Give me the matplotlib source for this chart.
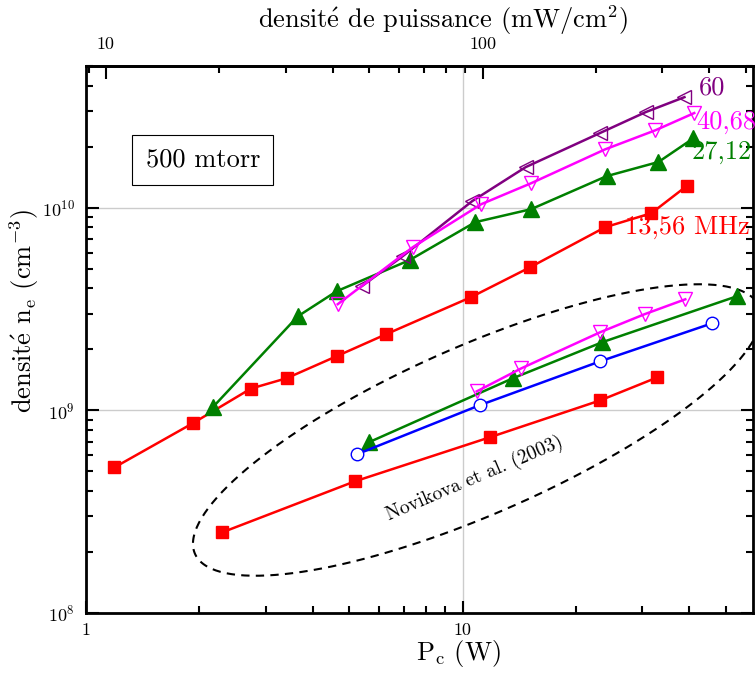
import numpy as np
import matplotlib
matplotlib.use('Agg')
import matplotlib.pyplot as plt
from matplotlib.ticker import FuncFormatter, NullFormatter

plt.rcParams['font.family'] = 'cmr10'
plt.rcParams['mathtext.fontset'] = 'cm'
plt.rcParams['axes.formatter.use_mathtext'] = True

# power density per watt (mW/cm2 per W), from top axis
dens_factor = 8.85

# this work, 500 mtorr
p_1356 = [1.19, 1.92, 2.74, 3.41, 4.63, 6.25, 10.5, 15.1, 23.9, 31.7, 39.3]
n_1356 = [5.23e8, 8.63e8, 1.28e9, 1.44e9, 1.85e9, 2.37e9, 3.61e9, 5.08e9, 8.01e9, 9.39e9, 1.277e10]
p_2712 = [2.17, 3.65, 4.63, 7.23, 10.8, 15.2, 24.1, 33.1, 41.0]
n_2712 = [1.035e9, 2.91e9, 3.87e9, 5.51e9, 8.48e9, 9.83e9, 1.43e10, 1.68e10, 2.2e10]
p_4068 = [4.66, 7.37, 11.2, 15.2, 23.9, 32.5, 41.2]
n_4068 = [3.34e9, 6.38e9, 1.04e10, 1.32e10, 1.94e10, 2.41e10, 2.93e10]
p_60 = [5.40, 6.93, 10.6, 14.7, 23.1, 30.6, 38.8]
n_60 = [4.10e9, 5.76e9, 1.077e10, 1.585e10, 2.33e10, 2.96e10, 3.51e10]

# Novikova et al. (2003)
nov_p_red = [2.30, 5.17, 11.8, 23.2, 32.9]
nov_n_red = [2.50e8, 4.46e8, 7.36e8, 1.12e9, 1.455e9]
nov_p_blue = [5.24, 11.1, 23.2, 46.0]
nov_n_blue = [6.07e8, 1.06e9, 1.746e9, 2.69e9]
nov_p_green = [5.63, 13.6, 23.5, 53.6]
nov_n_green = [6.95e8, 1.44e9, 2.17e9, 3.66e9]
nov_p_mag = [10.9, 14.3, 23.2, 30.4, 39.0]
nov_n_mag = [1.24e9, 1.61e9, 2.43e9, 2.98e9, 3.53e9]

top_ticks = [10, 100]

fig = plt.figure(figsize=(7.55, 6.76), dpi=100)
ax = fig.add_axes([86/755, 63/676, 667/755, 547/676])
ax.set_xscale('log')
ax.set_yscale('log')
ax.set_xlim(1, 59)
ax.set_ylim(1e8, 5e10)

lw = 1.8
ax.plot(p_1356, n_1356, color='red', lw=lw, marker='s', ms=9, zorder=5)
ax.plot(p_2712, n_2712, color='green', lw=lw, marker='^', ms=11, zorder=5)
ax.plot(p_60, n_60, color='purple', lw=lw, marker='<', ms=10, mfc='none', zorder=5)
ax.plot(p_4068, n_4068, color='magenta', lw=lw, marker='v', ms=10, mfc='none', zorder=6)

ax.plot(nov_p_red, nov_n_red, color='red', lw=lw, marker='s', ms=9, zorder=5)
ax.plot(nov_p_green, nov_n_green, color='green', lw=lw, marker='^', ms=11, zorder=5)
ax.plot(nov_p_blue, nov_n_blue, color='blue', lw=lw, marker='o', ms=9, mfc='white', zorder=5)
ax.plot(nov_p_mag, nov_n_mag, color='magenta', lw=lw, marker='v', ms=10, mfc='none', zorder=6)

# dashed ellipse round the Novikova data (drawn in axes pixels)
t = np.linspace(0, 2*np.pi, 300)
ang = np.deg2rad(23.7)
ex = 391 + 308*np.cos(ang)*np.cos(t) - 84*np.sin(ang)*np.sin(t)
ey = 183 + 308*np.sin(ang)*np.cos(t) + 84*np.cos(ang)*np.sin(t)
ax.plot(ex/667, ey/547, transform=ax.transAxes, color='black', ls=(0, (4, 3)), lw=1.5, zorder=4)
ax.text(0.583, 0.245, 'Novikova et al. (2003)', transform=ax.transAxes, fontsize=14,
        rotation=23, rotation_mode='anchor', ha='center', va='center')

# frequency labels
ax.text(42.5, 3.9e10, '60', color='purple', fontsize=19, ha='left', va='center', clip_on=False)
ax.text(41.8, 2.64e10, '40,68', color='magenta', fontsize=19, ha='left', va='center', clip_on=False)
ax.text(40.5, 1.88e10, '27,12', color='green', fontsize=19, ha='left', va='center', clip_on=False)
ax.text(26.9, 8.0e9, '13,56 MHz', color='red', fontsize=19, ha='left', va='center', clip_on=False)

ax.text(0.175, 0.828, '500 mtorr', transform=ax.transAxes, fontsize=19, ha='center', va='center',
        bbox=dict(boxstyle='square,pad=0.5', fc='white', ec='black', lw=0.8))

ax.grid(True, which='major', color='#cccccc', lw=1)
ax.set_axisbelow(True)
for s in ax.spines.values():
    s.set_linewidth(2)
ax.tick_params(which='both', direction='in', top=False, right=True, width=1.5, labelsize=13)
ax.tick_params(which='major', length=9)
ax.tick_params(which='minor', length=5)
ax.tick_params(axis='x', pad=7)
ax.tick_params(axis='y', pad=8)
ax.xaxis.set_major_formatter(FuncFormatter(lambda v, _: f'{v:g}'))
ax.xaxis.set_minor_formatter(NullFormatter())
ax.yaxis.set_minor_formatter(NullFormatter())

sec = ax.secondary_xaxis('top', functions=(lambda p: p*dens_factor, lambda d: d/dens_factor))
sec.set_xticks(top_ticks)
sec.tick_params(which='both', direction='in', width=1.5, labelsize=13, pad=10)
sec.tick_params(which='major', length=9)
sec.tick_params(which='minor', length=5)
sec.xaxis.set_major_formatter(FuncFormatter(lambda v, _: f'{v:g}'))
sec.xaxis.set_minor_formatter(NullFormatter())
sec.spines['top'].set_linewidth(2)

ax.set_xlabel(r'P$_\mathrm{c}$ (W)', fontsize=19)
ax.xaxis.set_label_coords(0.559, -0.045)
ax.set_ylabel(r'densit$\acute{\mathrm{e}}$ n$_\mathrm{e}$ (cm$^{-3}$)', fontsize=19)
ax.yaxis.set_label_coords(-0.068, 0.552)
fig.text(443/755, 1 - 20/676, r'densit$\acute{\mathrm{e}}$ de puissance (mW/cm$^2$)',
         fontsize=19, ha='center', va='center')

fig.savefig('out.png', dpi=100)
